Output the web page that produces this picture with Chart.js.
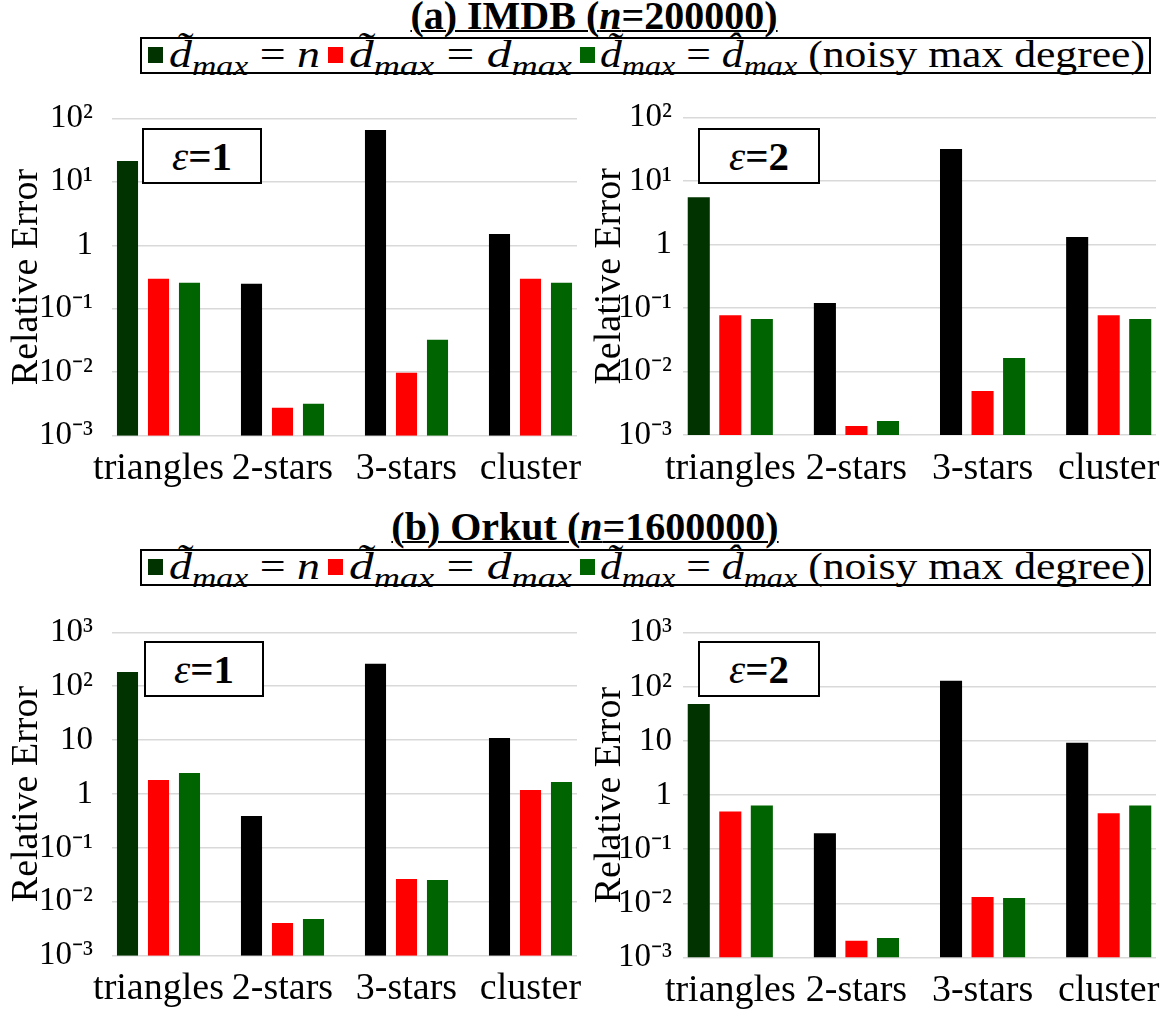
<!DOCTYPE html>
<html><head><meta charset="utf-8">
<script src="https://cdn.jsdelivr.net/npm/chart.js@4/dist/chart.umd.min.js"></script>
<style>
html,body{margin:0;padding:0;background:#fff;}
body{width:1167px;height:1013px;position:relative;overflow:hidden;font-family:'Liberation Serif','Times New Roman',serif;color:#000;}
.title{position:absolute;font-weight:bold;font-size:40px;line-height:1;text-decoration:underline;text-decoration-thickness:2px;text-underline-offset:1px;white-space:nowrap;transform:translateX(-50%);}
.legend{position:absolute;left:140px;width:1011px;height:37px;border:2px solid #000;box-sizing:border-box;}
.mk{position:absolute;width:15px;height:16px;top:8px;}
.lt{position:absolute;top:-4px;font-size:38px;line-height:1;white-space:nowrap;transform-origin:0 0;}
.m{font-style:italic;}
.sub{font-size:28px;font-style:italic;position:relative;top:8px;}
.eps{position:absolute;border:2px solid #000;box-sizing:border-box;height:56px;font-size:41px;font-weight:bold;display:flex;align-items:center;justify-content:center;background:#fff;line-height:1;}
.eps i{font-weight:normal;}
canvas{position:absolute;}
</style>
</head><body>
<div class="title" style="left:594px;top:-4px;">(a) IMDB (<i>n</i>=200000)</div>
<div class="legend" id="legA" style="top:37px;"></div>
<canvas id="cA1" width="590" height="410" style="left:0;top:90px;"></canvas>
<canvas id="cA2" width="584" height="410" style="left:583px;top:90px;"></canvas>
<div class="eps" style="left:142px;top:128px;width:120px;"><i>ε</i>=1</div>
<div class="eps" style="left:698px;top:128px;width:122px;"><i>ε</i>=2</div>

<div class="title" style="left:585px;top:507px;">(b) Orkut (<i>n</i>=1600000)</div>
<div class="legend" id="legB" style="top:549px;"></div>
<canvas id="cB1" width="590" height="413" style="left:0;top:600px;"></canvas>
<canvas id="cB2" width="584" height="413" style="left:583px;top:600px;"></canvas>
<div class="eps" style="left:144px;top:641px;width:120px;"><i>ε</i>=1</div>
<div class="eps" style="left:698px;top:641px;width:122px;"><i>ε</i>=2</div>

<script>
// ---------- data ----------
const categories = ['triangles', '2-stars', '3-stars', 'cluster'];
const seriesNames = ['d̃max = n', 'd̃max = dmax', 'd̃max = d̂max (noisy max degree)'];
const seriesColors = ['#003300', '#ff0000', '#006400'];
const firstSeriesBarColors = ['#003300', '#000000', '#000000', '#000000'];

// (a) IMDB, epsilon = 1
const imdbEps1N     = [21.3, 0.247, 65.5, 1.51];
const imdbEps1Dmax  = [0.296, 0.00276, 0.0098, 0.296];
const imdbEps1Noisy = [0.256, 0.00319, 0.0324, 0.256];
// (a) IMDB, epsilon = 2
const imdbEps2N     = [5.56, 0.120, 32.1, 1.32];
const imdbEps2Dmax  = [0.0769, 0.00139, 0.00493, 0.0769];
const imdbEps2Noisy = [0.0673, 0.00166, 0.0163, 0.0673];
// (b) Orkut, epsilon = 1
const orkutEps1N     = [184, 0.391, 262, 10.96];
const orkutEps1Dmax  = [1.82, 0.00405, 0.0265, 1.19];
const orkutEps1Noisy = [2.46, 0.0048, 0.0254, 1.67];
// (b) Orkut, epsilon = 2
const orkutEps2N     = [48, 0.197, 129, 9.31];
const orkutEps2Dmax  = [0.50, 0.00203, 0.0131, 0.46];
const orkutEps2Noisy = [0.645, 0.0023, 0.0125, 0.645];

const imdbTickValues  = [0.001, 0.01, 0.1, 1, 10, 100];
const imdbTickLabels  = ['10⁻³', '10⁻²', '10⁻¹', '1', '10¹', '10²'];
const orkutTickValues = [0.001, 0.01, 0.1, 1, 10, 100, 1000];
const orkutTickLabels = ['10⁻³', '10⁻²', '10⁻¹', '1', '10', '10²', '10³'];

// ---------- legend (HTML, real text) ----------
const legendHtml = [
  '<i class="m">d̃</i><span class="sub">max</span> = <i class="m">n</i>',
  '<i class="m">d̃</i><span class="sub">max</span> = <i class="m">d</i><span class="sub">max</span>',
  '<i class="m">d̃</i><span class="sub">max</span> = <i class="m">d̂</i><span class="sub">max</span> (noisy max degree)'
];
function buildLegend(el) {
  const mkX = [6, 186, 438];
  const txX = [27, 207, 458];
  const txW = [151, 223, 545];
  seriesColors.forEach((c, k) => {
    const mk = document.createElement('div');
    mk.className = 'mk'; mk.style.left = mkX[k] + 'px'; mk.style.background = c;
    el.appendChild(mk);
    const t = document.createElement('span');
    t.className = 'lt'; t.style.left = txX[k] + 'px'; t.innerHTML = legendHtml[k];
    el.appendChild(t);
    const w = t.getBoundingClientRect().width;
    if (w > 0) t.style.transform = 'scaleX(' + (txW[k] / w) + ')';
  });
}

// ---------- charts ----------
const FONT = "'Liberation Serif', 'Times New Roman', serif";
Chart.defaults.font.family = FONT;
Chart.defaults.color = '#000';
function makePanel(id, series, tickVals, tickLabels, lay) {
  new Chart(document.getElementById(id), {
    type: 'bar',
    data: {
      datasets: series.map((arr, k) => ({
        label: seriesNames[k],
        data: arr.map((v, i) => ({ x: i, y: v })),
        backgroundColor: k === 0 ? firstSeriesBarColors : seriesColors[k],
        borderWidth: 0,
        categoryPercentage: 0.75,
        barPercentage: lay.barPct
      }))
    },
    options: {
      responsive: false, animation: false, events: [],
      layout: { padding: { left: 0, right: lay.R, top: lay.T, bottom: 0 } },
      plugins: { legend: { display: false }, tooltip: { enabled: false } },
      scales: {
        x: {
          type: 'linear', min: -0.375, max: 3.375, offset: false,
          grid: { display: false, offset: false }, border: { display: false },
          afterBuildTicks: s => { s.ticks = categories.map((c, i) => ({ value: i })); },
          afterFit: s => { s.height = lay.H; },
          ticks: { callback: (v, i) => categories[i], font: { family: FONT, size: 38 }, color: '#000',
                   padding: lay.xPad, maxRotation: 0, autoSkip: false }
        },
        y: {
          type: 'logarithmic', min: tickVals[0], max: tickVals[tickVals.length - 1],
          afterBuildTicks: s => { s.ticks = tickVals.map(v => ({ value: v })); },
          afterFit: s => { s.width = lay.W; },
          grid: { color: '#d9d9d9', lineWidth: 1.5, drawTicks: true, tickLength: lay.yGap, tickColor: 'rgba(0,0,0,0)' },
          border: { display: false },
          ticks: { callback: (v, i) => tickLabels[i], font: { family: FONT, size: 33 }, color: '#000', padding: 0 },
          title: { display: true, text: 'Relative Error', font: { family: FONT, size: 38 }, color: '#000',
                   padding: { top: lay.tPad, bottom: 0 } }
        }
      }
    }
  });
}
function drawAll() {
  buildLegend(document.getElementById('legA'));
  buildLegend(document.getElementById('legB'));
  makePanel('cA1', [imdbEps1N, imdbEps1Dmax, imdbEps1Noisy], imdbTickValues, imdbTickLabels,
    { W: 112, R: 13, T: 28.3, H: 64.3, barPct: 0.68, xPad: 3, yGap: 19, tPad: 4 });
  makePanel('cA2', [imdbEps2N, imdbEps2Dmax, imdbEps2Noisy], imdbTickValues, imdbTickLabels,
    { W: 100, R: 11, T: 27.7, H: 65, barPct: 0.70, xPad: 3, yGap: 11, tPad: 4 });
  makePanel('cB1', [orkutEps1N, orkutEps1Dmax, orkutEps1Noisy], orkutTickValues, orkutTickLabels,
    { W: 112, R: 13, T: 32.3, H: 57.3, barPct: 0.68, xPad: 3, yGap: 19, tPad: 4 });
  makePanel('cB2', [orkutEps2N, orkutEps2Dmax, orkutEps2Noisy], orkutTickValues, orkutTickLabels,
    { W: 100, R: 11, T: 32.7, H: 55.5, barPct: 0.70, xPad: 3, yGap: 11, tPad: 4 });
}
Promise.all([
  document.fonts.load("37px 'Liberation Serif'"),
  document.fonts.load("italic 37px 'Liberation Serif'"),
  document.fonts.load("bold 37px 'Liberation Serif'")
]).catch(() => {}).then(drawAll);
</script>
</body></html>
